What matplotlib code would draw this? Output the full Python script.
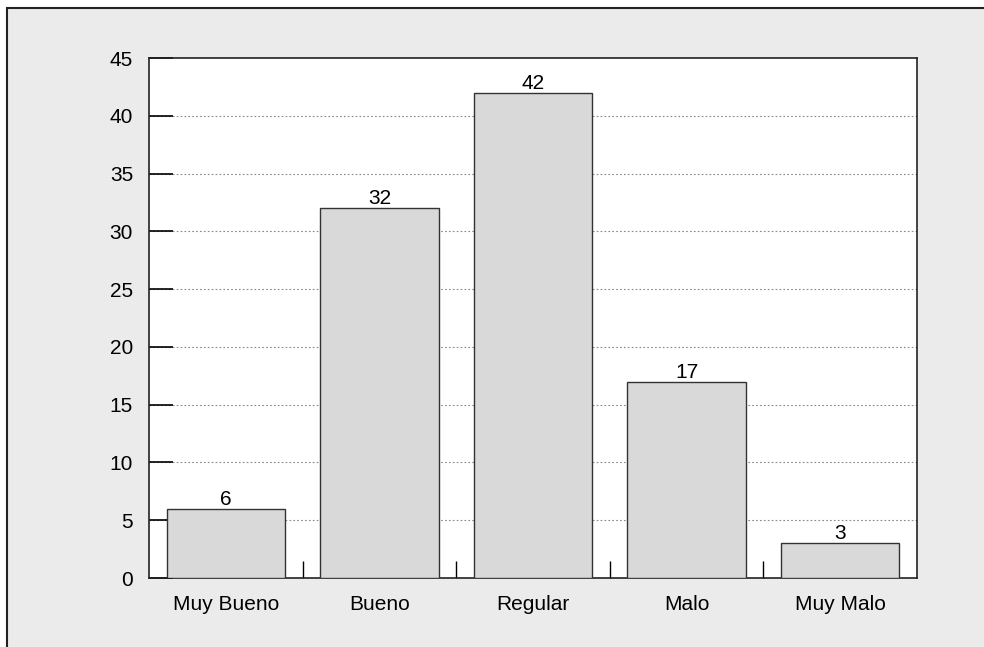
import matplotlib
matplotlib.use("Agg")
import matplotlib.pyplot as plt
from matplotlib.patches import Rectangle

categories = ["Muy Bueno", "Bueno", "Regular", "Malo", "Muy Malo"]
values = [6, 32, 42, 17, 3]
y_ticks = [0, 5, 10, 15, 20, 25, 30, 35, 40, 45]

plt.rcParams["font.family"] = ["Liberation Sans", "DejaVu Sans"]
FS = 15

fig = plt.figure(figsize=(9.84, 6.47), dpi=100, facecolor="white")

# grey scanned-page frame behind the chart
frame = Rectangle((7 / 984, -0.01), 1.0, 1 - 8 / 647 + 0.01,
                  transform=fig.transFigure, facecolor="#ebebeb",
                  edgecolor="#222222", linewidth=1.5, zorder=-10)
fig.patches.append(frame)

ax = fig.add_axes([149 / 984, 69 / 647, 768 / 984, 520 / 647])
ax.set_facecolor("white")

x = range(len(categories))
bars = ax.bar(x, values, width=0.77, color="#d9d9d9", edgecolor="#333333",
              linewidth=1.0, zorder=3)
ax.bar_label(bars, padding=0, fontsize=FS)

ax.set_xlim(-0.5, len(categories) - 0.5)
ax.set_ylim(0, 45)
ax.set_yticks(y_ticks)
ax.set_yticklabels([str(t) for t in y_ticks], fontsize=FS)
ax.set_xticks(list(x))
ax.set_xticklabels(categories, fontsize=FS)
ax.set_xticks([i + 0.5 for i in range(len(categories) - 1)], minor=True)

ax.tick_params(axis="y", direction="in", length=17, width=1.2, pad=11.5)
ax.tick_params(axis="x", which="major", length=0, pad=12)
ax.tick_params(axis="x", which="minor", direction="in", length=12, width=1.0)

for g in y_ticks[1:-1]:
    ax.axhline(g, color="#888888", linewidth=0.8, linestyle=(0, (1.5, 2)), zorder=1)

for s in ax.spines.values():
    s.set_linewidth(1.2)
    s.set_color("#222222")

fig.savefig("out.png", dpi=100, facecolor=fig.get_facecolor())
